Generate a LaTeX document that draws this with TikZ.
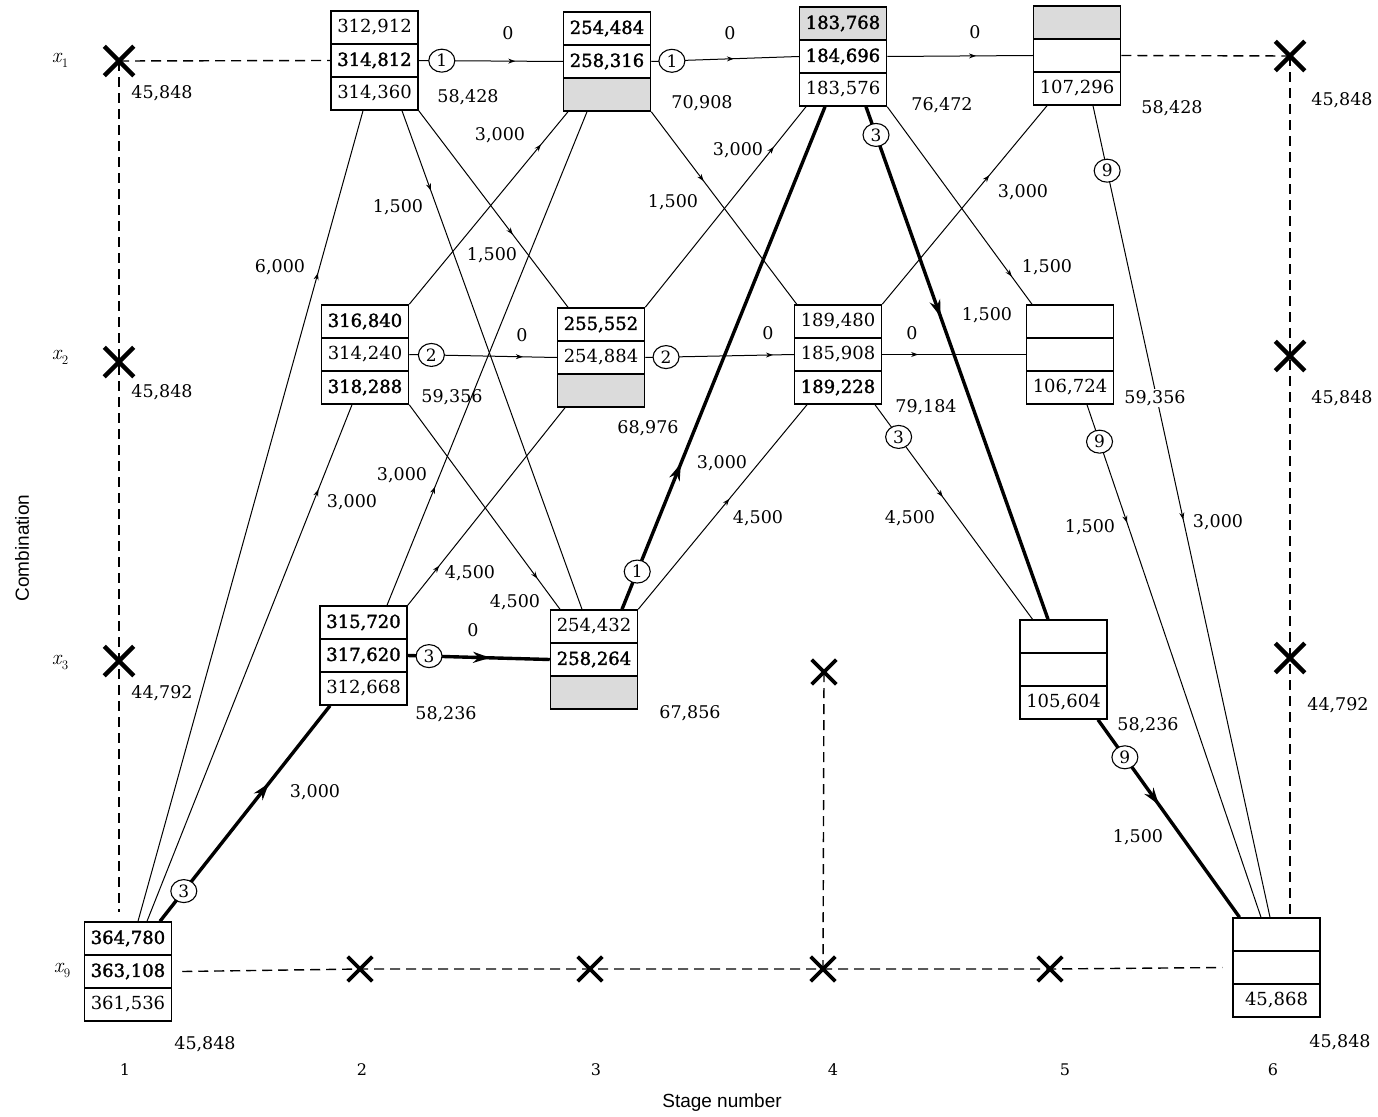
\documentclass[tikz,border=0pt]{standalone}
\usepackage{fontspec}
\newfontfamily\dvs{DejaVu Serif}
\newfontfamily\dvsb[FakeBold=1.8]{DejaVu Serif}
\newfontfamily\lsans{Liberation Sans}
\usetikzlibrary{shapes.misc,shapes.geometric,arrows.meta,decorations.markings}
\newcommand\mycellbox[9]{%
 \node[cell,#4] (#1a) at (#2,#3+16.5) {#5};
 \node[cell,#6] (#1b) at (#2,#3+49.5) {#7};
 \node[cell,#8] (#1c) at (#2,#3+82.5) {#9};}
\newcommand\myrowlab[1]{{\fontsize{21}{22}\selectfont\itshape x}\kern0.5pt\raisebox{-5pt}{\fontsize{13}{14}\selectfont #1}}
\begin{document}
\begin{tikzpicture}[x=1pt,y=-1pt,
  cell/.style={draw, line width=1.5pt, minimum width=87pt, minimum height=33pt, inner sep=0pt, font=\fontsize{18}{20}\dvs, fill=white},
  cb/.style={font=\fontsize{18}{20}\dvsb},
  cg/.style={fill=black!14},
  cn/.style={},
  thinl/.style={line width=1pt},
  boldl/.style={line width=3.4pt},
  mida/.style={postaction={decorate}, decoration={markings, mark=at position #1 with {\arrow{Stealth[length=7pt,width=5pt]}}}},
  midA/.style={postaction={decorate}, decoration={markings, mark=at position #1 with {\arrow{Stealth[length=17pt,width=11pt]}}}},
  numc/.style={ellipse, draw, fill=white, line width=1.1pt, inner sep=0pt, minimum width=26pt, minimum height=23pt, font=\fontsize{17}{18}\dvs},
  lab/.style={font=\fontsize{17.5}{20}\dvs, inner sep=1pt},
  xbig/.style={cross out, draw, line width=4.5pt, minimum size=25pt, inner sep=0pt},
  xsm/.style={cross out, draw, line width=3.6pt, minimum size=21pt, inner sep=0pt},
  dsh/.style={line width=1.4pt, dash pattern=on 10pt off 6pt},
  stg/.style={font=\fontsize{16}{18}\dvs},
  rowl/.style={inner sep=1pt}
]
\fill[white] (0,0) rectangle (1378,1116);
\useasboundingbox (0,0) rectangle (1378,1116);

% boxes
\mycellbox{s21}{374.5}{11}{cn}{312,912}{cb}{314,812}{cn}{314,360}
\mycellbox{s22}{365}{305}{cb}{316,840}{cn}{314,240}{cb}{318,288}
\mycellbox{s23}{363.5}{606}{cb}{315,720}{cb}{317,620}{cn}{312,668}
\mycellbox{s31}{607}{12}{cb}{254,484}{cb}{258,316}{cg}{}
\mycellbox{s32}{601}{308}{cb}{255,552}{cn}{254,884}{cg}{}
\mycellbox{s33}{594}{610}{cn}{254,432}{cb}{258,264}{cg}{}
\mycellbox{s41}{843}{7}{cb,cg}{183,768}{cb}{184,696}{cn}{183,576}
\mycellbox{s42}{838}{305}{cn}{189,480}{cn}{185,908}{cb}{189,228}
\mycellbox{s51}{1077}{6}{cg}{}{cn}{}{cn}{107,296}
\mycellbox{s52}{1070}{305}{cn}{}{cn}{}{cn}{106,724}
\mycellbox{s53}{1063.5}{620}{cn}{}{cn}{}{cn}{105,604}
\mycellbox{s6}{1276.5}{918}{cn}{}{cn}{}{cn}{45,868}
\mycellbox{s1}{128}{922}{cb}{364,780}{cb}{363,108}{cn}{361,536}

% X marks
\node[xbig] (X11) at (119,61) {};
\node[xbig] (X12) at (119,362) {};
\node[xbig] (X13) at (119,661) {};
\node[xbig] (X61) at (1290,56) {};
\node[xbig] (X62) at (1290,356) {};
\node[xbig] (X63) at (1290,658) {};
\node[xsm] (X43) at (824,672) {};
\node[xsm] (Xb2) at (360,969) {};
\node[xsm] (Xb3) at (590,969) {};
\node[xsm] (Xb4) at (823,969) {};
\node[xsm] (Xb5) at (1050,969) {};
\coordinate (c1) at (119,912);

% dashed lines
\draw[dsh] (X11.center) -- (s21b.west);
\draw[dsh] (s51b.east) -- (X61.center);
\draw[dsh] (X11.center) -- (X12.center) -- (X13.center) -- (c1);
\draw[dsh] (X61.center) -- (X62.center) -- (X63.center) -- (X63.center |- s6a.north);
\draw[dsh] (X43.center) -- (Xb4.center);
\draw[dsh] ([xshift=10pt]s1b.east) -- (Xb2.center) -- (Xb3.center) -- (Xb4.center) -- (Xb5.center) -- ([xshift=-10pt]s6b.west);

% stage 1 -> 2
\draw[thinl, mida=0.80] ([xshift=10pt]s1a.north) -- ([xshift=-11.5pt]s21c.south);
\draw[thinl, mida=0.836] ([xshift=19pt]s1a.north) -- ([xshift=-13pt]s22c.south);
\draw[boldl, midA=0.64] ([xshift=32pt]s1a.north) -- node[numc,pos=0.14] (n1) {3} ([xshift=-33.5pt]s23c.south);

% stage 2 -> 3
\draw[thinl, mida=0.67] (s21b.east) -- node[numc,pos=0.16] (n2) {1} (s31b.west);
\draw[thinl, mida=0.63] (s21c.south east) -- ([xshift=-33pt]s32a.north);
\draw[thinl, mida=0.16] ([xshift=27.5pt]s21c.south) -- ([xshift=-12pt]s33a.north);
\draw[thinl, mida=0.83] (s22a.north east) -- ([xshift=-39pt]s31c.south);
\draw[thinl, mida=0.77] (s22b.east) -- node[numc,pos=0.15] (n3) {2} (s32b.west);
\draw[thinl, mida=0.85] (s22c.south east) -- ([xshift=-34pt]s33a.north);
\draw[thinl, mida=0.24] ([xshift=23.5pt]s23a.north) -- ([xshift=-20pt]s31c.south);
\draw[thinl, mida=0.2] (s23a.north east) -- ([xshift=-36pt]s32c.south);
\draw[boldl, midA=0.58] (s23b.east) -- node[numc,pos=0.15] (n4) {3} (s33b.west);

% stage 3 -> 4
\draw[thinl, mida=0.56] (s31b.east) -- node[numc,pos=0.14] (n5) {1} (s41b.west);
\draw[thinl, mida=0.36] (s31c.south east) -- ([xshift=3pt]s42a.north west);
\draw[thinl, mida=0.8] (s32a.north east) -- ([xshift=-37pt]s41c.south);
\draw[thinl, mida=0.86] (s32b.east) -- node[numc,pos=0.14] (n6) {2} (s42b.west);
\draw[boldl, midA=0.29] ([xshift=28pt]s33a.north) -- node[numc,pos=0.075] (n7) {1} ([xshift=-18pt]s41c.south);
\draw[thinl, mida=0.54] (s33a.north east) -- ([xshift=-31pt]s42c.south);

% stage 4 -> 5
\draw[thinl, mida=0.61] (s41b.east) -- (s51b.west);
\draw[boldl, midA=0.41] ([xshift=23pt]s41c.south) -- node[numc,pos=0.055] (n8) {3} ([xshift=-15.5pt]s53a.north);
\draw[thinl, mida=0.86] (s41c.south east) -- ([xshift=-38pt]s52a.north);
\draw[thinl, mida=0.65] (s42a.north east) -- ([xshift=-30pt]s51c.south);
\draw[thinl, mida=0.25] (s42b.east) -- (s52b.west);
\draw[thinl, mida=0.43] ([xshift=37pt]s42c.south) -- node[numc,pos=0.15] (n9) {3} ([xshift=-31pt]s53a.north);

% stage 5 -> 6
\draw[thinl, mida=0.51] ([xshift=16pt]s51c.south) -- node[numc,pos=0.08] (n10) {9} ([xshift=-6.5pt]s6a.north);
\draw[thinl, mida=0.23] ([xshift=17pt]s52c.south) -- node[numc,pos=0.072] (n11) {9} ([xshift=-15.5pt]s6a.north);
\draw[boldl, midA=0.43] ([xshift=34.5pt]s53c.south) -- node[numc,pos=0.19] (n12) {9} ([xshift=-37pt]s6a.north);

% edge labels
\node[lab] (e1) at (280,267) {6,000};
\node[lab] (e2) at (352,502) {3,000};
\node[lab] (e3) at (315,792) {3,000};
\node[lab] (e4) at (508,33) {0};
\node[lab] (e5) at (492,255) {1,500};
\node[lab] (e6) at (398,207) {1,500};
\node[lab] (e7) at (500,135) {3,000};
\node[lab] (e8) at (522,335) {0};
\node[lab] (e9) at (515,602) {4,500};
\node[lab] (e10) at (402,475) {3,000};
\node[lab] (e11) at (470,573) {4,500};
\node[lab] (e12) at (473,630) {0};
\node[lab] (e13) at (730,33) {0};
\node[lab] (e14) at (673,202) {1,500};
\node[lab] (e15) at (738,150) {3,000};
\node[lab] (e16) at (768,333) {0};
\node[lab] (e17) at (722,463) {3,000};
\node[lab] (e18) at (758,518) {4,500};
\node[lab] (e19) at (975,32) {0};
\node[lab] (e20) at (987,315) {1,500};
\node[lab] (e21) at (1047,267) {1,500};
\node[lab] (e22) at (1023,192) {3,000};
\node[lab] (e23) at (912,333) {0};
\node[lab] (e24) at (910,518) {4,500};
\node[lab] (e25) at (1218,522) {3,000};
\node[lab] (e26) at (1090,527) {1,500};
\node[lab] (e27) at (1138,837) {1,500};

% value labels
\node[lab] (v21) at (468,97) {58,428};
\node[lab] (v22) at (452,397) {59,356};
\node[lab] (v23) at (446,714) {58,236};
\node[lab] (v31) at (702,103) {70,908};
\node[lab] (v32) at (648,428) {68,976};
\node[lab] (v33) at (690,713) {67,856};
\node[lab] (v41) at (942,105) {76,472};
\node[lab] (v42) at (926,407) {79,184};
\node[lab] (v51) at (1172,108) {58,428};
\node[lab, fill=white] (v52) at (1155,398) {59,356};
\node[lab] (v53) at (1148,725) {58,236};
\node[lab] (v1) at (205,1044) {45,848};
\node[lab] (v6) at (1340,1042) {45,848};
\node[lab] (w11) at (162,93) {45,848};
\node[lab] (w12) at (162,392) {45,848};
\node[lab] (w13) at (162,693) {44,792};
\node[lab] (w61) at (1342,100) {45,848};
\node[lab] (w62) at (1342,398) {45,848};
\node[lab] (w63) at (1338,705) {44,792};

% axes
\node[rowl] (r1) at (60,60) {\myrowlab{1}};
\node[rowl] (r2) at (60,357) {\myrowlab{2}};
\node[rowl] (r3) at (60,662) {\myrowlab{3}};
\node[rowl] (r9) at (62,970) {\myrowlab{9}};
\node[rotate=90, font=\fontsize{19}{22}\lsans] (ylab) at (22,548) {Combination};
\node[font=\fontsize{19}{22}\lsans] (xlab) at (722,1103) {Stage number};
\node[stg] (t1) at (125,1070) {1};
\node[stg] (t2) at (362,1070) {2};
\node[stg] (t3) at (596,1070) {3};
\node[stg] (t4) at (833,1070) {4};
\node[stg] (t5) at (1065,1070) {5};
\node[stg] (t6) at (1273,1070) {6};
\end{tikzpicture}
\end{document}
